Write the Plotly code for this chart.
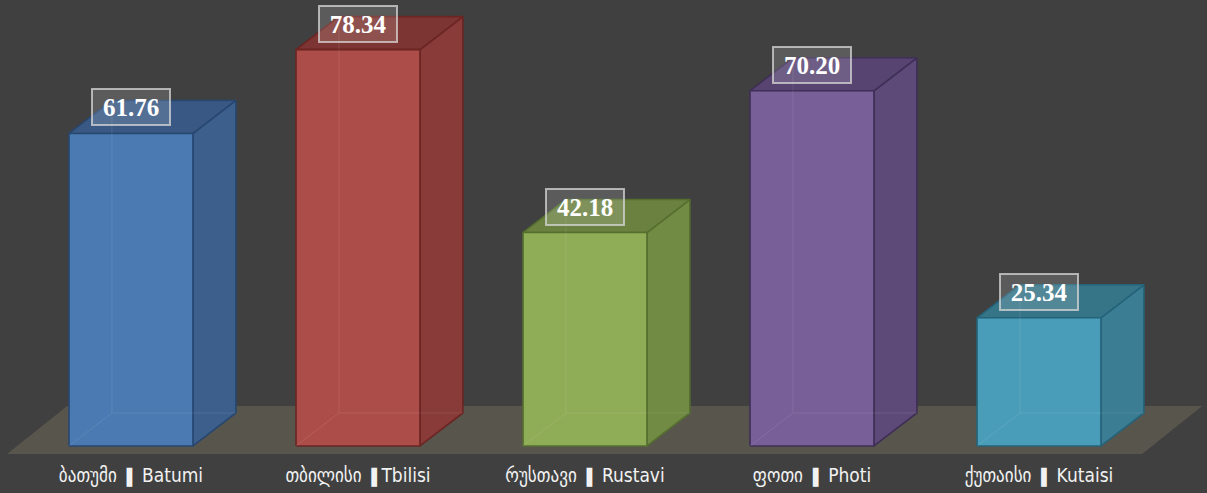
import plotly.graph_objects as go

# ---- data ----
categories = ["ბათუმი ❚ Batumi", "თბილისი ❚Tbilisi", "რუსთავი ❚ Rustavi", "ფოთი ❚ Photi", "ქუთაისი ❚ Kutaisi"]
values = [61.76, 78.34, 42.18, 70.20, 25.34]
value_labels = ["61.76", "78.34", "42.18", "70.20", "25.34"]

# ---- style ----
front_colors = ["#4a7ab1", "#ad4d49", "#8fac57", "#785f98", "#4a9db8"]
side_colors = ["#3d5f8b", "#883b38", "#718a44", "#5e4a79", "#3b7d92"]
top_colors = ["#395883", "#7c3532", "#6a8140", "#574471", "#367488"]
line_colors = ["#274771", "#6b2523", "#566f2f", "#3f2f56", "#25637a"]
BG = "#404040"
FLOOR = "#58554c"

HALF_W = 0.273      # half bar width (category units)
DX = 0.189          # depth offset x (category units)
DY = 6.52           # depth offset y (value units)
FLOOR_FRONT_Y = -1.58
FLOOR_BACK_Y = 7.9
FLOOR_LEFT = 0.546
FLOOR_RIGHT = 0.454
FLOOR_DX = 0.265

fig = go.Figure()

n = len(values)
xs = list(range(n))

# floor
fl = [xs[0] - FLOOR_LEFT, xs[-1] + FLOOR_RIGHT]
fig.add_trace(go.Scatter(
    x=[fl[0], fl[1], fl[1] + FLOOR_DX, fl[0] + FLOOR_DX, fl[0]],
    y=[FLOOR_FRONT_Y, FLOOR_FRONT_Y, FLOOR_BACK_Y, FLOOR_BACK_Y, FLOOR_FRONT_Y],
    mode="lines", fill="toself", fillcolor=FLOOR, line=dict(width=0),
    hoverinfo="skip", showlegend=False))

for i, v in enumerate(values):
    x0, x1 = xs[i] - HALF_W, xs[i] + HALF_W
    lc = line_colors[i]
    # side face
    fig.add_trace(go.Scatter(
        x=[x1, x1 + DX, x1 + DX, x1, x1],
        y=[0, DY, v + DY, v, 0],
        mode="lines", fill="toself", fillcolor=side_colors[i],
        line=dict(color=lc, width=1.6), hoverinfo="skip", showlegend=False))
    # top face
    fig.add_trace(go.Scatter(
        x=[x0, x1, x1 + DX, x0 + DX, x0],
        y=[v, v, v + DY, v + DY, v],
        mode="lines", fill="toself", fillcolor=top_colors[i],
        line=dict(color=lc, width=1.6), hoverinfo="skip", showlegend=False))
    # front face
    fig.add_trace(go.Scatter(
        x=[x0, x1, x1, x0, x0],
        y=[0, 0, v, v, 0],
        mode="lines", fill="toself", fillcolor=front_colors[i],
        line=dict(color=lc, width=1.6), hoverinfo="skip", showlegend=False))
    # faint hidden edges seen through the translucent box
    fig.add_trace(go.Scatter(
        x=[x0, x0 + DX, None, x0 + DX, x0 + DX, None, x0 + DX, x1 + DX],
        y=[0, DY, None, DY, v + DY, None, DY, DY],
        mode="lines", line=dict(color="#ffffff", width=1), opacity=0.09,
        hoverinfo="skip", showlegend=False))
    # value label
    fig.add_annotation(
        x=xs[i], y=v, yshift=26, yanchor="middle", xanchor="center",
        text="<b>%s</b>" % value_labels[i], showarrow=False,
        font=dict(family="Liberation Serif", size=25, color="#ffffff"),
        bgcolor="rgba(255,255,255,0.14)", bordercolor="rgba(215,215,215,0.75)",
        borderwidth=2, borderpad=0, width=76, height=34)

fig.update_layout(
    width=1207, height=493,
    margin=dict(l=0, r=0, t=0, b=33),
    paper_bgcolor=BG, plot_bgcolor=BG,
    showlegend=False,
    xaxis=dict(range=[-0.577, 4.740], tickvals=xs, ticktext=categories,
               showgrid=False, zeroline=False, showline=False, ticks="",
               ticklabelstandoff=2,
               tickfont=dict(family="DejaVu Sans Condensed", size=19, color="#f2f2f2"),
               fixedrange=True),
    yaxis=dict(range=[-2.77, 88.14], visible=False, fixedrange=True),
)

fig.write_html(
    "out.html",
    config={"displayModeBar": False},
    post_script="document.body.style.margin='0';document.body.style.background='%s';" % BG,
)
